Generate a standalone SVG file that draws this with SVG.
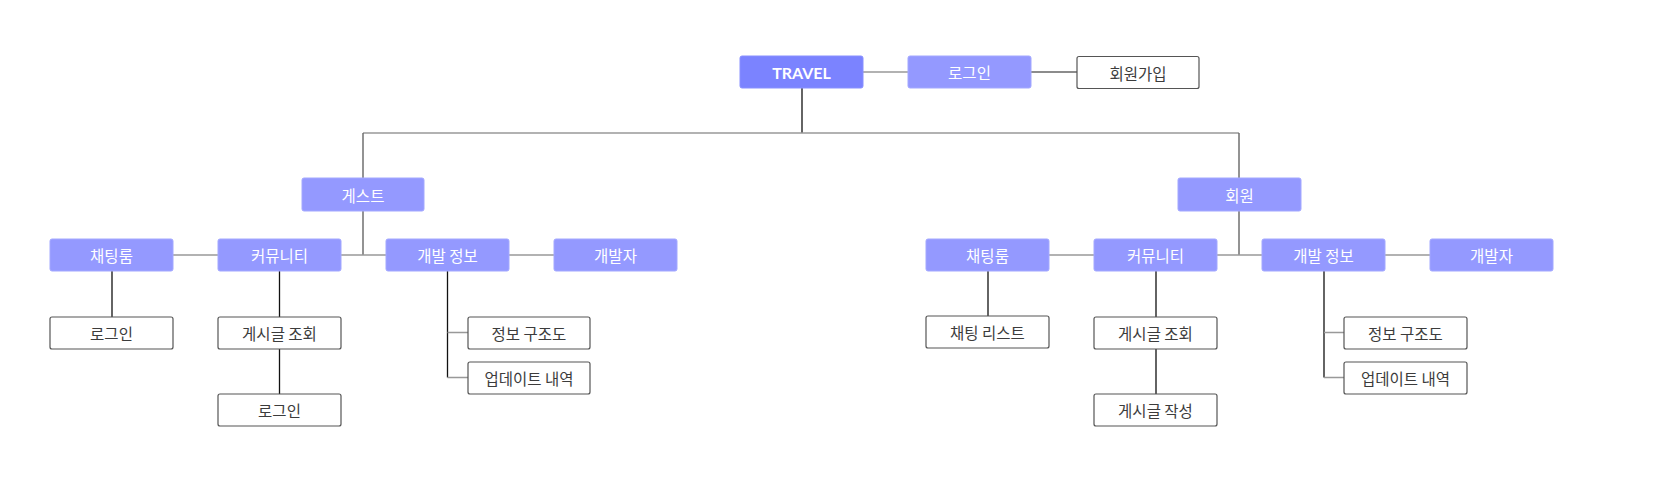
<svg xmlns="http://www.w3.org/2000/svg" width="1667" height="483" viewBox="0 0 1667 483">
<style>
.b rect{fill:#9499ff;stroke:#a3a8ff;stroke-width:1}
.r rect{fill:#7b83ff;stroke:#8990ff;stroke-width:1}
.w rect{fill:#fff;stroke:#555;stroke-width:1.2}
text{font-family:"Noto Sans CJK KR","Noto Sans",sans-serif;font-size:15.5px;text-anchor:middle;dominant-baseline:central}
.b text,.r text{fill:#fff}
.w text{fill:#3c3c3c}
.r text{font-family:"Lato","Noto Sans",sans-serif;font-weight:bold;font-size:16px}
.g{stroke:#999;stroke-width:1.4;fill:none}
.d{stroke:#666;stroke-width:1.4;fill:none}
.k{stroke:#111;stroke-width:1.3;fill:none}
</style>
<rect width="1667" height="483" fill="#fff"/>
<g id="connectors">
<path class="g" d="M863 72H908"/>
<path class="d" d="M1031 72H1077"/>
<path class="k" d="M802 88V133"/>
<path class="g" d="M363 133H1239"/>
<path class="d" d="M363 133V178M363 211V255"/>
<path class="d" d="M1239 133V178M1239 211V255"/>
<path class="g" d="M173 255H218M341 255H386M509 255H554"/>
<path class="g" d="M1049 255H1094M1217 255H1262M1385 255H1430"/>
<path class="k" d="M112 271V317"/>
<path class="k" d="M279.5 271V317M279.5 349V394"/>
<path class="k" d="M447.5 271V377.5"/>
<path class="g" d="M447.5 332.5H468M447.5 377.5H468"/>
<path class="k" d="M988 271V316"/>
<path class="k" d="M1156 271V317M1156 349V394"/>
<path class="k" d="M1324 271V377.5"/>
<path class="g" d="M1324 332.5H1344M1324 377.5H1344"/>
</g>
<g id="travel" class="r"><rect x="740" y="56" width="123" height="32" rx="2"/><text x="801.5" y="72">TRAVEL</text></g>
<g id="login-top" class="b"><rect x="908" y="56" width="123" height="32" rx="2"/><text x="969.5" y="72">로그인</text></g>
<g id="signup" class="w"><rect x="1077" y="56.5" width="122" height="32" rx="2"/><text x="1138" y="72.5">회원가입</text></g>
<g id="guest" class="b"><rect x="302" y="178" width="122" height="33" rx="2"/><text x="363" y="194.5">게스트</text></g>
<g id="member" class="b"><rect x="1178" y="178" width="123" height="33" rx="2"/><text x="1239.5" y="194.5">회원</text></g>
<g id="g-chat" class="b"><rect x="50" y="239" width="123" height="32" rx="2"/><text x="111.5" y="255">채팅룸</text></g>
<g id="g-comm" class="b"><rect x="218" y="239" width="123" height="32" rx="2"/><text x="279.5" y="255">커뮤니티</text></g>
<g id="g-dev" class="b"><rect x="386" y="239" width="123" height="32" rx="2"/><text x="447.5" y="255">개발 정보</text></g>
<g id="g-devs" class="b"><rect x="554" y="239" width="123" height="32" rx="2"/><text x="615.5" y="255">개발자</text></g>
<g id="g-login1" class="w"><rect x="50" y="317" width="123" height="32" rx="2"/><text x="111.5" y="333">로그인</text></g>
<g id="g-view" class="w"><rect x="218" y="317" width="123" height="32" rx="2"/><text x="279.5" y="333">게시글 조회</text></g>
<g id="g-login2" class="w"><rect x="218" y="394" width="123" height="32" rx="2"/><text x="279.5" y="410">로그인</text></g>
<g id="g-struct" class="w"><rect x="468" y="317" width="122" height="32" rx="2"/><text x="529" y="333">정보 구조도</text></g>
<g id="g-update" class="w"><rect x="468" y="362" width="122" height="32" rx="2"/><text x="529" y="378">업데이트 내역</text></g>
<g id="m-chat" class="b"><rect x="926" y="239" width="123" height="32" rx="2"/><text x="987.5" y="255">채팅룸</text></g>
<g id="m-comm" class="b"><rect x="1094" y="239" width="123" height="32" rx="2"/><text x="1155.5" y="255">커뮤니티</text></g>
<g id="m-dev" class="b"><rect x="1262" y="239" width="123" height="32" rx="2"/><text x="1323.5" y="255">개발 정보</text></g>
<g id="m-devs" class="b"><rect x="1430" y="239" width="123" height="32" rx="2"/><text x="1491.5" y="255">개발자</text></g>
<g id="m-chatlist" class="w"><rect x="926" y="316" width="123" height="32" rx="2"/><text x="987.5" y="332">채팅 리스트</text></g>
<g id="m-view" class="w"><rect x="1094" y="317" width="123" height="32" rx="2"/><text x="1155.5" y="333">게시글 조회</text></g>
<g id="m-write" class="w"><rect x="1094" y="394" width="123" height="32" rx="2"/><text x="1155.5" y="410">게시글 작성</text></g>
<g id="m-struct" class="w"><rect x="1344" y="317" width="123" height="32" rx="2"/><text x="1405.5" y="333">정보 구조도</text></g>
<g id="m-update" class="w"><rect x="1344" y="362" width="123" height="32" rx="2"/><text x="1405.5" y="378">업데이트 내역</text></g>
</svg>
